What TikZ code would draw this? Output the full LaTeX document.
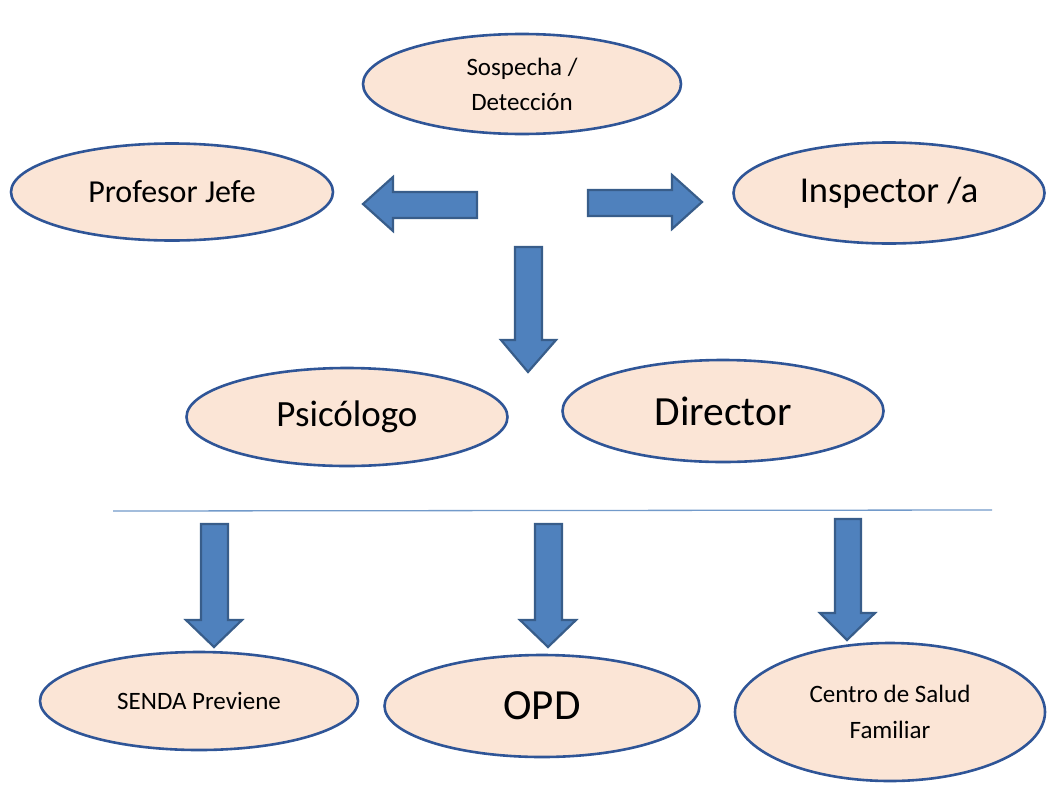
\documentclass[tikz,border=0pt]{standalone}
\usepackage{fontspec}
\setmainfont{Carlito}
\usetikzlibrary{shapes.geometric}
\definecolor{ellfill}{HTML}{FBE5D6}
\definecolor{elldraw}{HTML}{2F5597}
\definecolor{arrfill}{HTML}{4F81BD}
\definecolor{arrdraw}{HTML}{385D8A}
\tikzset{
  oval/.style={ellipse, draw=elldraw, fill=ellfill, line width=2.6pt, inner sep=0pt, align=center, text=black},
  blockarrow/.style={draw=arrdraw, fill=arrfill, line width=2.2pt, line join=miter},
  sepline/.style={draw=arrfill!80, line width=1.3pt}
}
\begin{document}
\begin{tikzpicture}[x=1pt,y=-1pt]
\useasboundingbox (0,0) rectangle (1048,787);
% ellipses
\node[oval, minimum width=318pt, minimum height=100pt, font=\fontsize{25}{35}\selectfont] (sos) at (522,84) {Sospecha /\\Detección};
\node[oval, minimum width=322pt, minimum height=97pt, font=\fontsize{32}{36}\selectfont] (prof) at (172,192) {Profesor Jefe};
\node[oval, minimum width=311pt, minimum height=101pt, font=\fontsize{36.5}{40}\selectfont] (insp) at (889,193) {Inspector /a};
\node[oval, minimum width=321pt, minimum height=98pt, font=\fontsize{37}{40}\selectfont] (psi) at (347,417) {Psicólogo};
\node[oval, minimum width=321pt, minimum height=102pt, font=\fontsize{41.5}{44}\selectfont] (dir) at (723,411) {Director};
\node[oval, minimum width=318pt, minimum height=98pt, font=\fontsize{25}{30}\selectfont] (senda) at (199,701) {SENDA Previene};
\node[oval, minimum width=315pt, minimum height=102pt, font=\fontsize{43}{46}\selectfont] (opd) at (542,706) {OPD};
\node[oval, minimum width=310pt, minimum height=138pt, font=\fontsize{25}{36}\selectfont] (csf) at (890,712) {Centro de Salud\\Familiar};
% separator line
\coordinate (la) at (113,511);
\coordinate (lb) at (992,510);
\draw[sepline] (la) -- (lb);
% left arrow
\draw[blockarrow] (477,192) -- (393,192) -- (393,177) -- (363,204) -- (393,231) -- (393,218) -- (477,218) -- cycle;
% right arrow
\draw[blockarrow] (588,190) -- (672,190) -- (672,175) -- (702,202) -- (672,229) -- (672,216) -- (588,216) -- cycle;
% center down arrow
\draw[blockarrow] (515,247) -- (542,247) -- (542,340) -- (556,340) -- (528,372) -- (501,340) -- (515,340) -- cycle;
% bottom arrows
\draw[blockarrow] (201,524) -- (228,524) -- (228,620) -- (242,620) -- (214,647) -- (186,620) -- (201,620) -- cycle;
\draw[blockarrow] (535,524) -- (562,524) -- (562,620) -- (576,620) -- (548,647) -- (520,620) -- (535,620) -- cycle;
\draw[blockarrow] (835,519) -- (861,519) -- (861,613) -- (875,613) -- (847,640) -- (820,613) -- (835,613) -- cycle;
\end{tikzpicture}
\end{document}
